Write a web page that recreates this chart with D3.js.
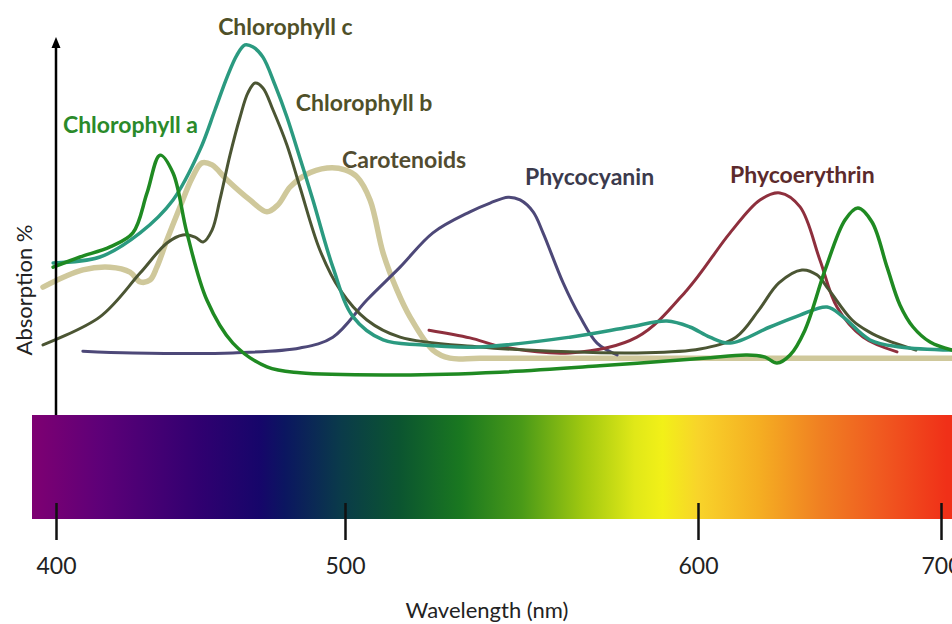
<!DOCTYPE html>
<html>
<head>
<meta charset="utf-8">
<script src="https://cdn.jsdelivr.net/npm/d3@7"></script>
<style>
  body { margin: 0; background: #fff; }
  svg { display: block; }
</style>
</head>
<body>
<div id="chart"></div>
<script>
// absorption curves, [wavelength nm, absorption %]
var chlA = [[399,35.1],[408.3,38],[418.7,40.9],[426.6,44.9],[431.5,56.3],[436,67.1],[440.5,62],[445.3,44.9],
  [452.2,25.7],[461.2,13.4],[473,6.6],[484.4,4.9],[515.6,4.3],[543.9,5.1],[572.2,6.9],[602.1,9.1],[620.2,10],
  [627.6,9.4],[632.5,7.7],[637.9,10],[644,17.1],[652.3,34.3],[660.5,48.6],[665.8,52],[671.6,48],[677.8,35.1],
  [683.1,24.3],[688.5,18],[695.5,13.7],[704.5,11.4]];
var chlB = [[395.5,12.9],[415.2,20.9],[429.1,33.4],[438.4,42],[443.9,44.3],[448.1,43.7],[450.9,42.3],[454,45.7],
  [456.7,54.3],[460.2,67.1],[463.7,78],[466.4,84.9],[468.9,87.7],[471.6,86.3],[475.1,80],[479.9,70],[484.4,58],
  [491.3,40],[498.3,28.6],[506.2,20],[515.6,15.1],[538.2,12.3],[563.7,10.9],[582.7,10.6],[600.8,11.7],
  [615.6,15.1],[625.1,22.9],[633.3,30.6],[642.8,34.3],[648.9,32.9],[653.9,28.6],[663.4,20],[670.4,16.6],
  [677.4,14.3],[689.7,11.4]];
var chlC = [[399,36.3],[415.2,38],[429.1,44.9],[440.5,54.3],[449.8,68.6],[455,80],[459.2,89.4],[462.6,95.7],
  [465.4,98.6],[468.2,98],[471.6,95.1],[475.8,87.1],[479.9,78],[484.4,66.3],[488.9,54.3],[495.8,35.1],
  [502.3,20.9],[510.8,14.3],[521.2,12.9],[538.2,12.3],[563.7,15.1],[580.7,18],[591.2,19.7],[597.7,18],
  [604.9,15.1],[613.2,13.4],[629.6,18],[642,21.4],[653.1,23.7],[659.7,20.9],[670.8,14.3],[683.1,12.3],[704.5,11.4]];
var carot = [[395.5,29.4],[409.3,34.3],[418.7,35.1],[425.6,33.7],[429.1,30.9],[432.5,31.4],[434.9,35.1],
  [438.4,42.9],[442.9,52.3],[447.1,60.6],[450.5,64.9],[454,64.3],[459.2,60],[467.1,54.3],[473,50.9],[476.8,52.9],
  [481,58],[486.2,61.4],[493.8,63.4],[500,62.9],[503.4,60.9],[507.1,54.3],[510.8,39.1],[514.7,28.6],[518.4,20.9],
  [524.9,11.4],[529.7,9.1],[538.2,9.1],[572.2,9.1],[642,9.1],[704.5,9.1]];
var phycocyanin = [[409.3,11.1],[426.6,10.6],[461.2,10.6],[484.4,12],[495.8,15.1],[506.2,25.7],[515.6,35.1],
  [524.9,44.9],[535.4,50.9],[541.1,53.4],[546.2,55.1],[549.6,54.3],[553.3,50.9],[556.1,44.9],[561.8,30.6],
  [566.6,20.9],[571.4,13.4],[577.1,10]];
var phycoerythrin = [[523.8,17.1],[535.4,14.9],[544.8,12.3],[563.7,10.6],[582.7,15.1],[596.9,28.6],[613.2,44.9],
  [625.5,54.3],[633.7,56.3],[642,52.3],[650.2,37.1],[657.2,23.7],[667.9,15.1],[681.9,10.9]];

var seriesNames = ["Carotenoids", "Phycocyanin", "Phycoerythrin", "Chlorophyll b", "Chlorophyll c", "Chlorophyll a"];
var seriesData = [carot, phycocyanin, phycoerythrin, chlB, chlC, chlA];
var seriesColors = ["#cfc89b", "#4d4878", "#8e2f3d", "#4b5533", "#2b9a80", "#1f8a22"];
var seriesWidths = [5.5, 3, 3, 3, 3.5, 3.5];
// label anchor in data units [nm, %]
var labelAt = [[499, 63.4], [551, 58.6], [613.2, 59.1], [483, 79.7], [456.1, 101.4], [402.4, 73.4]];
var labelColors = ["#524c30", "#3b3a4c", "#5c2a2c", "#4f5028", "#4f5028", "#2a8a2a"];

var tickValues = [400, 500, 600, 700];
// visible spectrum stops
var specNm = [391.7, 415.2, 449.8, 470.6, 479.2, 498.3, 515.6, 532.9, 550.1, 567.4, 582, 590, 600, 625.1, 650.2, 674.9, 702.4];
var specColors = ["#7e0072", "#5e0078", "#300070", "#16066a", "#0b1660", "#0a3a4a", "#0b5530", "#1a7820", "#4a9a18",
  "#a0c810", "#e0e818", "#f2f018", "#f8d42a", "#f5ae22", "#f08022", "#f05a20", "#f03018"];

var width = 952, height = 624;

const svg = d3.select("#chart").append("svg")
  .attr("width", width)
  .attr("height", height);

// hand drawn original: tick spacing is uneven, so piecewise scale
var x = d3.scaleLinear()
  .domain([400, 500, 600, 700])
  .range([56, 345, 698, 941]);
var y = d3.scaleLinear()
  .domain([0, 100])
  .range([390, 40]);

// spectrum bar
var grad = svg.append("defs").append("linearGradient")
  .attr("id", "spec")
  .attr("gradientUnits", "userSpaceOnUse")
  .attr("x1", 0).attr("x2", width).attr("y1", 0).attr("y2", 0);
grad.selectAll("stop")
  .data(specNm)
  .enter()
  .append("stop")
  .attr("offset", function (d) { return x(d) / width; })
  .attr("stop-color", function (d, i) { return specColors[i]; });

svg.append("rect")
  .attr("x", 32)
  .attr("y", 415)
  .attr("width", width - 32)
  .attr("height", 104)
  .attr("fill", "url(#spec)");

// curves
var line = d3.line()
  .x(function (d) { return x(d[0]); })
  .y(function (d) { return y(d[1]); })
  .curve(d3.curveCatmullRom.alpha(0.5));

svg.append("g")
  .selectAll("path")
  .data(seriesData)
  .enter()
  .append("path")
  .attr("d", line)
  .attr("fill", "none")
  .attr("stroke", function (d, i) { return seriesColors[i]; })
  .attr("stroke-width", function (d, i) { return seriesWidths[i]; })
  .attr("stroke-linejoin", "round")
  .attr("stroke-linecap", "round");

// y axis with arrow
svg.append("line")
  .attr("x1", x(400)).attr("x2", x(400))
  .attr("y1", 415).attr("y2", 44)
  .attr("stroke", "#000")
  .attr("stroke-width", 2.5);
svg.append("path")
  .attr("d", d3.line()([[x(400) - 4.5, 48], [x(400), 37], [x(400) + 4.5, 48]]))
  .attr("fill", "#000");

// x axis
var xAxis = d3.axisBottom(x)
  .tickValues(tickValues)
  .tickSize(37)
  .tickPadding(18);

var gx = svg.append("g")
  .attr("transform", "translate(0,503)")
  .call(xAxis);
gx.select(".domain").remove();
gx.selectAll(".tick line").attr("stroke", "#111").attr("stroke-width", 2.5);
gx.selectAll(".tick text")
  .attr("fill", "#222")
  .style("font-family", "Lato, 'Open Sans', sans-serif")
  .style("font-size", "23px");

// curve labels
svg.append("g")
  .selectAll("text")
  .data(seriesNames)
  .enter()
  .append("text")
  .attr("x", function (d, i) { return x(labelAt[i][0]); })
  .attr("y", function (d, i) { return y(labelAt[i][1]); })
  .attr("fill", function (d, i) { return labelColors[i]; })
  .style("font-family", "Lato, 'Open Sans', sans-serif")
  .style("font-weight", "700")
  .style("font-size", "23px")
  .text(function (d) { return d; });

// axis titles
svg.append("text")
  .attr("x", 487)
  .attr("y", 618)
  .attr("text-anchor", "middle")
  .attr("fill", "#222")
  .style("font-family", "Lato, 'Open Sans', sans-serif")
  .style("font-size", "22px")
  .text("Wavelength (nm)");

svg.append("text")
  .attr("transform", "translate(32,290) rotate(-90)")
  .attr("text-anchor", "middle")
  .attr("fill", "#222")
  .style("font-family", "Lato, 'Open Sans', sans-serif")
  .style("font-size", "22px")
  .text("Absorption %");
</script>
</body>
</html>
